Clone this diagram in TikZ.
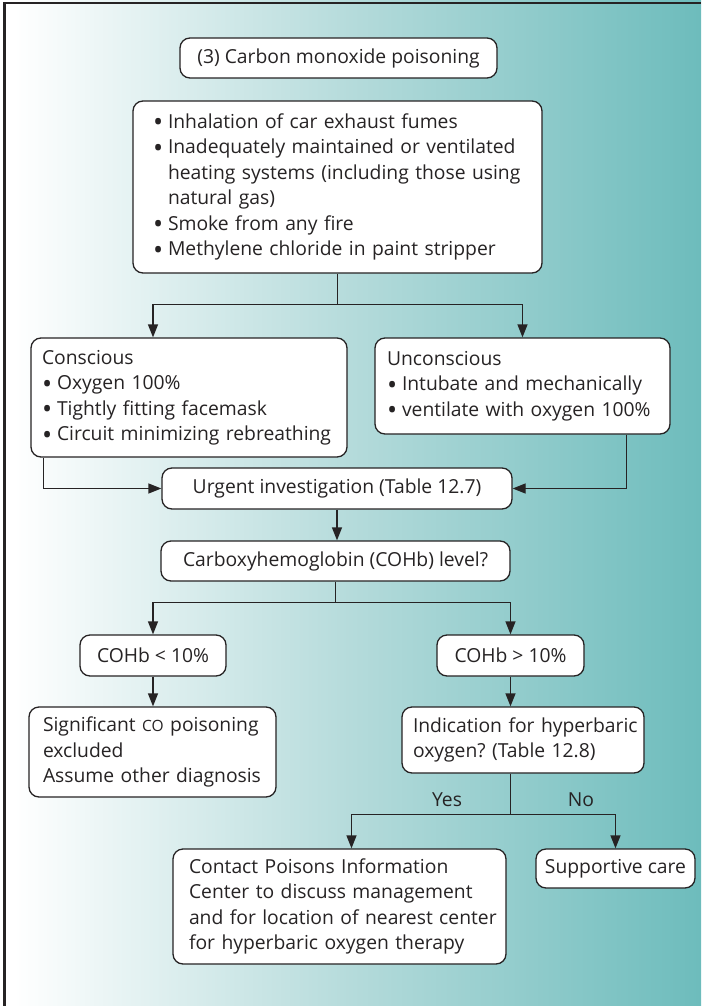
\documentclass[tikz,border=0pt]{standalone}
\usepackage{fontspec}
\usepackage{graphicx}
\setmainfont{Open Sans}
\usetikzlibrary{arrows.meta}
\frenchspacing
\definecolor{ink}{HTML}{262324}
\definecolor{panelmid}{HTML}{B5DBDB}
\definecolor{panelteal}{HTML}{6DBCBC}
% background panel: white on the left fading into teal on the right
\pgfdeclarehorizontalshading{panel}{100bp}{color(0bp)=(white); color(26bp)=(white); color(50bp)=(panelmid); color(75bp)=(panelteal); color(100bp)=(panelteal)}
\newcommand\bul{\makebox[15pt][l]{\raisebox{-3.6pt}{\scalebox{1.4}{•}}}}
\newcommand\cont{\hspace*{15pt}}
\newcommand\oneline[1]{\mbox{#1}}
\begin{document}
\begin{tikzpicture}[x=1pt,y=-1pt,
  font=\fontsize{19.3}{25.5}\selectfont, text=ink,
  box/.style={draw=ink, line width=1.3pt, rounded corners=10pt, fill=white, inner ysep=0pt},
  lbox/.style={box, align=left},
  ln/.style={draw=ink, line width=1.3pt},
  arr/.style={ln, -{Triangle[length=13pt,width=10pt]}}]
\useasboundingbox (0,0) rectangle (701,1006);
\shade[shading=panel] (0,0) rectangle (701,1006);
\draw[ink, line width=2.3pt] (4.5,1006) -- (4.5,3) -- (701,3);

% boxes
\node[box, minimum width=317pt, minimum height=40pt] (title) at (338.5,58) {(3) Carbon monoxide poisoning};
\node[lbox, text width=369pt, inner xsep=20pt, minimum height=172pt] (causes) at (337.5,187)
  {\oneline{\bul Inhalation of car exhaust fumes}\\
   \oneline{\bul Inadequately maintained or ventilated}\\
   \oneline{\cont heating systems (including those using}\\
   \oneline{\cont natural gas)}\\
   \oneline{\bul Smoke from any fire}\\
   \oneline{\bul Methylene chloride in paint stripper}};
\node[lbox, text width=294pt, inner xsep=11pt, minimum height=119pt] (consc) at (189,397.5)
  {\oneline{Conscious}\\
   \oneline{\bul Oxygen 100\%}\\
   \oneline{\bul Tightly fitting facemask}\\
   \oneline{\bul Circuit minimizing rebreathing}};
\node[lbox, text width=271pt, inner xsep=12pt, minimum height=96pt] (uncon) at (522.5,386)
  {\oneline{Unconscious}\\
   \oneline{\bul Intubate and mechanically}\\
   \oneline{\bul ventilate with oxygen 100\%}};
\node[box, minimum width=350pt, minimum height=41pt] (urgent) at (337,488.5) {Urgent investigation (Table 12.7)};
\node[box, minimum width=349pt, minimum height=40pt] (carb) at (335.5,561) {Carboxyhemoglobin (COHb) level?};
\node[box, minimum width=146pt, minimum height=41pt] (low) at (153,655.5) {COHb < 10\%};
\node[box, minimum width=147pt, minimum height=41pt] (high) at (510.5,655.5) {COHb > 10\%};
\node[lbox, text width=219pt, inner xsep=14pt, minimum height=90pt] (sig) at (152.5,752)
  {\oneline{Significant {\fontsize{15.5}{25.5}\selectfont CO} poisoning}\\
   \oneline{excluded}\\
   \oneline{Assume other diagnosis}};
\node[lbox, text width=220pt, inner xsep=11pt, minimum height=66pt] (ind) at (523,740)
  {\oneline{Indication for hyperbaric}\\
   \oneline{oxygen? (Table 12.8)}};
\node[lbox, text width=301pt, inner xsep=16pt, minimum height=115pt] (contact) at (339.5,906.5)
  {\oneline{Contact Poisons Information}\\
   \oneline{Center to discuss management}\\
   \oneline{and for location of nearest center}\\
   \oneline{for hyperbaric oxygen therapy}};
\node[box, minimum width=159pt, minimum height=39pt] (support) at (615.5,868.5) {Supportive care};

% branch labels
\node (yes) at (447,800) {Yes};
\node (no) at (581,800) {No};

% connectors
\draw[ln] (causes.south) -- ++(0,31) coordinate (split1);
\draw[arr] (split1) -| ([xshift=-36pt]consc.north);
\draw[arr] (split1) -| (uncon.north);
\draw[arr] ([xshift=13pt]consc.south west) |- (urgent.west);
\draw[arr] ([xshift=-44pt]uncon.south east) |- (urgent.east);
\draw[arr] (urgent.south) -- (urgent.south |- carb.north);
\draw[ln] (carb.south) -- ++(0,21) coordinate (split2);
\draw[arr] (split2) -| (low.north);
\draw[arr] (split2) -| (high.north);
\draw[arr] (low.south) -- (low.south |- sig.north);
\draw[arr] (high.south) -- (high.south |- ind.north);
\draw[ln] (ind.south -| high.south) -- ++(0,41) coordinate (split3);
\draw[arr] (split3) -| ([xshift=12pt]contact.north);
\draw[arr] (split3) -| (support.north);
\end{tikzpicture}
\end{document}
